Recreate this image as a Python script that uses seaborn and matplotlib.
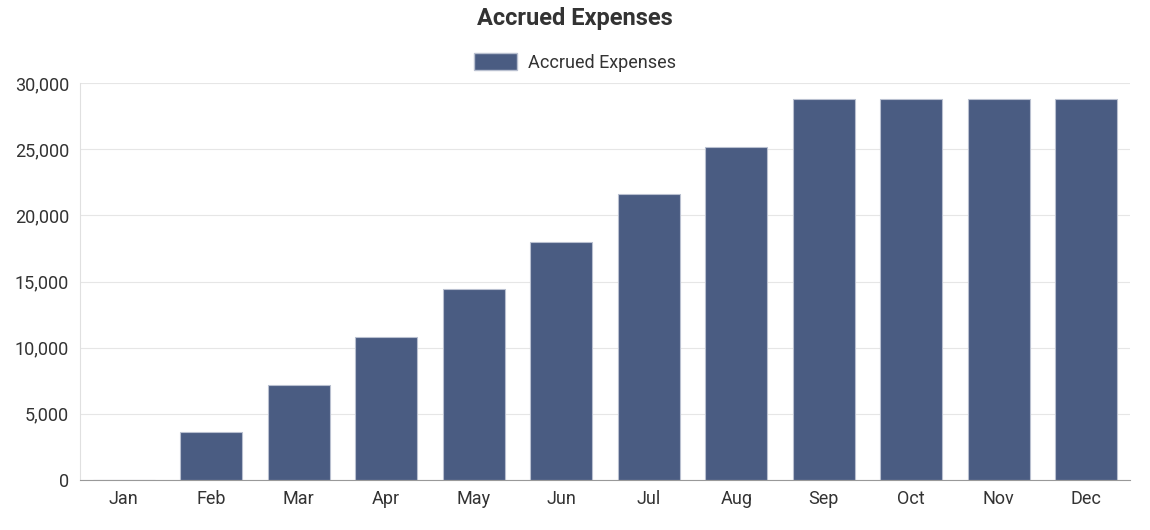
import matplotlib
matplotlib.use("Agg")
import matplotlib.pyplot as plt
import seaborn as sns
import pandas as pd
from matplotlib.ticker import FuncFormatter
from matplotlib.patches import Patch

months = ["Jan", "Feb", "Mar", "Apr", "May", "Jun", "Jul", "Aug", "Sep", "Oct", "Nov", "Dec"]
accrued = [0, 3600, 7200, 10800, 14400, 18000, 21600, 25200, 28800, 28800, 28800, 28800]
series_name = "Accrued Expenses"

sns.set_style("white")
plt.rcParams['font.family'] = ['Roboto', 'DejaVu Sans']

df = pd.DataFrame({"month": months, "value": accrued})
bar_color = "#4a5c82"

fig = plt.figure(figsize=(11.5, 5.3), dpi=100)
ax = fig.add_axes([0.0696, 0.0943, 0.9130, 0.7491])

sns.barplot(data=df, x="month", y="value", color=bar_color, width=0.71,
            edgecolor="#b9c0d0", linewidth=0.8, saturation=1, ax=ax)

ax.set_ylim(0, 30000)
ax.set_yticks(range(0, 30001, 5000))
ax.yaxis.set_major_formatter(FuncFormatter(lambda v, p: f"{int(v):,}"))
ax.grid(axis="y", color="#e6e6e6", linewidth=0.8)
ax.set_axisbelow(True)
ax.set_xlabel("")
ax.set_ylabel("")
for s in ["top", "right"]:
    ax.spines[s].set_visible(False)
ax.spines["left"].set_color("#e0e0e0")
ax.spines["bottom"].set_color("#999999")
ax.tick_params(axis="both", length=0, labelsize=13, labelcolor="#333333")
ax.tick_params(axis="x", pad=7)
ax.tick_params(axis="y", pad=8)

fig.text(0.5, 0.965, series_name, ha="center", va="center",
         fontsize=17, fontweight="bold", color="#333333")
handle = Patch(facecolor=bar_color, edgecolor="#b9c0d0", label=series_name)
fig.legend(handles=[handle], loc="center", bbox_to_anchor=(0.5, 0.882),
           frameon=False, fontsize=13, handlelength=2.4, handleheight=1.1,
           handletextpad=0.6, labelcolor="#333333")

fig.savefig("out.png", dpi=100)
